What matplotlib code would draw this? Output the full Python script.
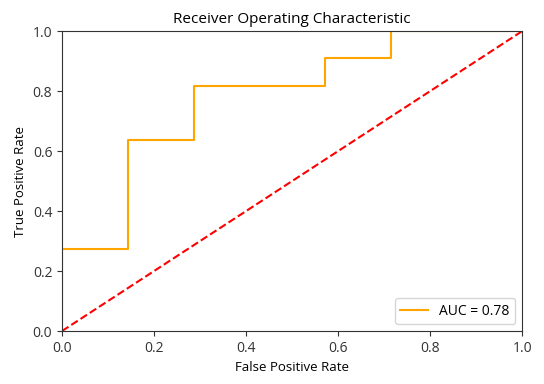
import numpy as np
import matplotlib
matplotlib.use('Agg')
import matplotlib.pyplot as plt

plt.rcParams['font.family'] = ['Open Sans', 'DejaVu Sans']

# ROC points
fpr = [0.0, 0.0, 1 / 7, 1 / 7, 2 / 7, 2 / 7, 4 / 7, 4 / 7, 5 / 7, 5 / 7, 1.0]
tpr = [0.0, 3 / 11, 3 / 11, 7 / 11, 7 / 11, 9 / 11, 9 / 11, 10 / 11, 10 / 11, 1.0, 1.0]
roc_auc = 0.78
diag = [0, 1]

fig = plt.figure(figsize=(5.44, 3.84), dpi=100)
ax = fig.add_axes([0.114, 0.138, 0.846, 0.781])

ax.plot(fpr, tpr, color='orange', label='AUC = %0.2f' % roc_auc)
ax.plot(diag, diag, 'r--')
ax.set_xlim(0, 1)
ax.set_ylim(0, 1)
ax.set_title('Receiver Operating Characteristic', fontsize=11)
ax.set_xlabel('False Positive Rate', fontsize=9.5)
ax.set_ylabel('True Positive Rate', fontsize=9.5)
ax.legend(loc='lower right', fontsize=10)
ax.tick_params(labelsize=10, colors='#333333')
for s in ax.spines.values():
    s.set_color('#333333')

fig.savefig('out.png', dpi=100)
